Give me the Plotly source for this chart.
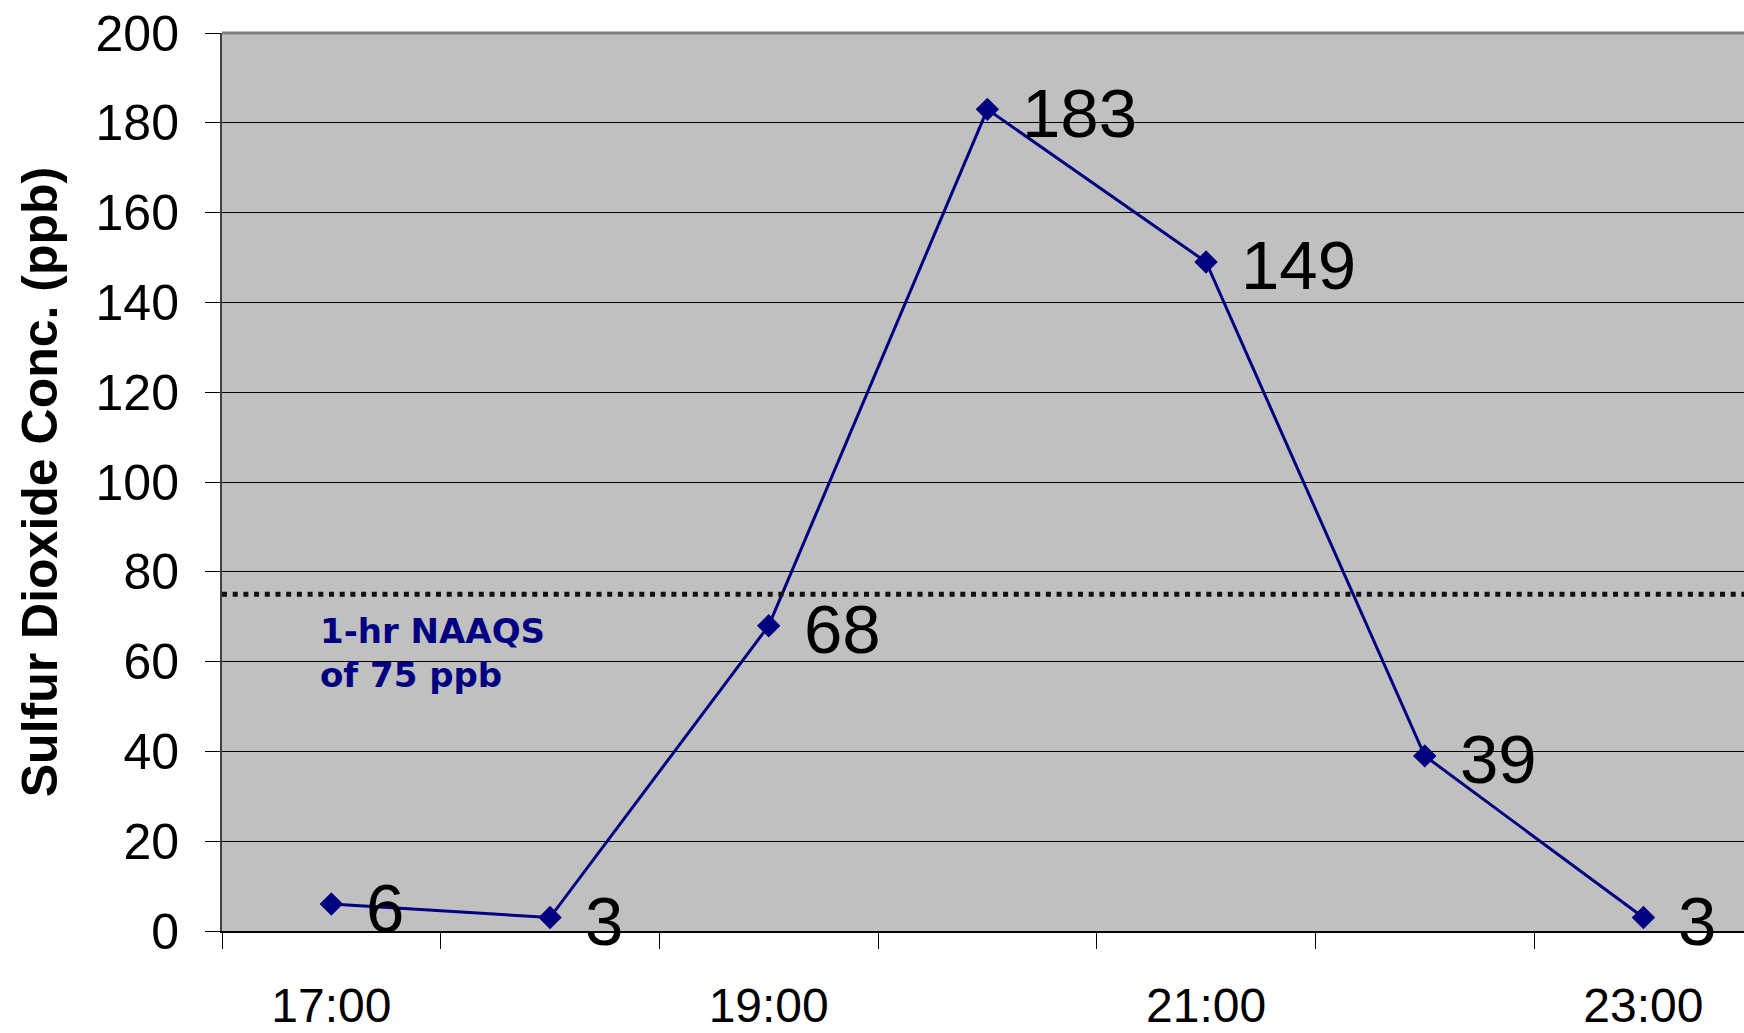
import plotly.graph_objects as go

hours = ["17:00", "18:00", "19:00", "20:00", "21:00", "22:00", "23:00"]
so2_ppb = [6, 3, 68, 183, 149, 39, 3]
tick_text = ["17:00", "", "19:00", "", "21:00", "", "23:00"]
naaqs_value = 75
naaqs_label = "1-hr NAAQS<br>of 75 ppb"
y_title = "Sulfur Dioxide Conc. (ppb)"

navy = "#000080"

fig = go.Figure()
fig.add_trace(go.Scatter(
    x=hours, y=so2_ppb,
    mode="lines+markers",
    line=dict(color=navy, width=3),
    marker=dict(symbol="diamond", size=18, color=navy),
    cliponaxis=False,
    showlegend=False,
))

# data labels
for h, v in zip(hours, so2_ppb):
    fig.add_annotation(x=h, y=v, xref="x", yref="y", text=str(v), showarrow=False,
                       xanchor="left", yanchor="middle", xshift=33, yshift=-4,
                       font=dict(family="Liberation Sans, Arial", size=69, color="black"))

# NAAQS dotted line
fig.add_shape(type="line", xref="paper", yref="y", x0=0, x1=1,
              y0=naaqs_value, y1=naaqs_value,
              line=dict(color="#111111", width=5, dash="5px,5.7px"))
# top border of plot area
fig.add_shape(type="line", xref="paper", yref="paper", x0=0, x1=1, y0=1, y1=1,
              line=dict(color="#808080", width=3))

fig.add_annotation(x=0.063, y=naaqs_value - 3.3, xref="paper", yref="y",
                   text=naaqs_label, showarrow=False, xanchor="left", yanchor="top",
                   align="left",
                   font=dict(family="DejaVu Sans", size=34, color=navy, weight="bold"))

fig.update_layout(
    width=1744, height=1033,
    margin=dict(l=222, r=0, t=33, b=102),
    paper_bgcolor="white",
    plot_bgcolor="#C0C0C0",
    font=dict(family="Liberation Sans, Arial", color="black"),
)
fig.update_xaxes(
    type="category",
    range=[-0.5, len(hours) - 0.54],
    tickmode="array", tickvals=hours, ticktext=tick_text,
    tickson="boundaries",
    ticks="outside", ticklen=16, tickcolor="black", tickwidth=1,
    showgrid=False,
    showline=True, linecolor="black", linewidth=2,
    tickfont=dict(size=48),
    ticklabelstandoff=31,
    automargin=False,
)
fig.update_yaxes(
    range=[0, 200], dtick=20,
    ticks="outside", ticklen=15, tickcolor="black", tickwidth=1,
    showgrid=True, gridcolor="black", gridwidth=1,
    showline=True, linecolor="#404040", linewidth=2,
    zeroline=False,
    tickfont=dict(size=50),
    ticklabelstandoff=16,
    automargin=False,
    title=dict(text=y_title, font=dict(size=50, weight="bold"), standoff=22),
)

fig.write_html("out.html", config={"displayModeBar": False},
               post_script="document.body.style.margin='0';")
